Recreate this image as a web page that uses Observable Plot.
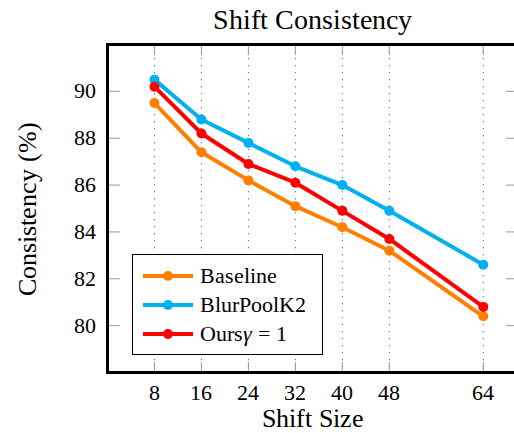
<!DOCTYPE html>
<html>
<head>
<meta charset="utf-8">
<script src="https://cdn.jsdelivr.net/npm/d3@7"></script>
<script src="https://cdn.jsdelivr.net/npm/@observablehq/plot@0.6"></script>
<style>
  @font-face { font-family: "ChartSerif"; src: local("Liberation Serif"), local("LiberationSerif"), local("LiberationSerif-Regular"), local("Tinos"); font-style: normal; font-weight: 400; }
  @font-face { font-family: "ChartSerif"; src: local("Liberation Serif Italic"), local("LiberationSerif-Italic"); font-style: italic; font-weight: 400; }
  html, body { margin: 0; padding: 0; background: #fff; overflow: hidden; width: 514px; height: 433px; }
  #wrap { position: relative; width: 514px; height: 433px; overflow: hidden; font-family: ChartSerif, 'Liberation Serif', serif; }
  #title { position: absolute; left: 107px; width: 411px; top: 0; height: 40px; line-height: 40px; text-align: center; font-size: 28px; color: #000; }
  #chart { position: absolute; left: 0; top: 40px; width: 530px; }
  #chart svg { max-width: none !important; }
  #legend { position: absolute; left: 132px; top: 254px; width: 189px; height: 99px; border: 1px solid #000; background: #fff; box-sizing: content-box; padding: 0; }
  .row { position: absolute; left: 0; height: 29px; display: flex; align-items: center; font-size: 22px; white-space: nowrap; }
  .row svg { margin-left: 10px; margin-right: 7px; }
</style>
</head>
<body>
<div id="wrap">
  <div id="title">Shift Consistency</div>
  <div id="chart"></div>
  <div id="legend"></div>
</div>
<script>
const shiftSizes = [8, 16, 24, 32, 40, 48, 64];
const yTicks = [80, 82, 84, 86, 88, 90];
const seriesNames = ["Baseline", "BlurPoolK2", "Ours"];
const seriesColors = ["#ff8000", "#00b0f0", "#ff0000"];
const baseline   = [89.5, 87.4, 86.2, 85.1, 84.2, 83.2, 80.4];
const blurPoolK2 = [90.5, 88.8, 87.8, 86.8, 86.0, 84.9, 82.6];
const ours       = [90.2, 88.2, 86.9, 86.1, 84.9, 83.7, 80.8];
const xLabel = "Shift Size";
const yLabel = "Consistency (%)";

const allValues = [baseline, blurPoolK2, ours];
const rows = [];
seriesNames.forEach((name, i) => {
  shiftSizes.forEach((x, j) => rows.push({series: name, x, y: allValues[i][j]}));
});

const font = "ChartSerif, 'Liberation Serif', serif";
const tickColor = "#999";
const seriesMarks = seriesNames.flatMap((name, i) => {
  const d = rows.filter(r => r.series === name);
  return [
    Plot.line(d, {x: "x", y: "y", stroke: seriesColors[i], strokeWidth: 4}),
    Plot.dot(d, {x: "x", y: "y", fill: seriesColors[i], r: 5})
  ];
});

const chart = Plot.plot({
  width: 530,
  height: 393,
  marginLeft: 107,
  marginRight: 12,
  marginTop: 4,
  marginBottom: 61,
  style: {background: "#fff", color: "#000", maxWidth: "none", fontFamily: font},
  x: {domain: [0, 70], ticks: shiftSizes},
  y: {domain: [78, 92], ticks: yTicks},
  marks: [
    Plot.gridX(shiftSizes, {stroke: "#4f7a4f", strokeOpacity: 1, strokeWidth: 1, strokeDasharray: "1.3,5.7"}),
    Plot.axisX(shiftSizes, {anchor: "bottom", tickSize: 10, dy: -10, text: null, stroke: tickColor, label: null}),
    Plot.axisX(shiftSizes, {anchor: "top", tickSize: 10, dy: 10, text: null, stroke: tickColor, label: null}),
    Plot.axisY(yTicks, {anchor: "left", tickSize: 13, dx: 13, text: null, stroke: tickColor, label: null}),
    Plot.axisY(yTicks, {anchor: "right", tickSize: 13, dx: -13, text: null, stroke: tickColor, label: null}),
    Plot.axisX(shiftSizes, {anchor: "bottom", tickSize: 0, tickPadding: 11.5, fontSize: 22, label: null}),
    Plot.axisY(yTicks, {anchor: "left", tickSize: 0, tickPadding: 12, fontSize: 22, label: null}),
    Plot.text([xLabel], {frameAnchor: "bottom", text: d => d, fontSize: 26, dy: 46, lineAnchor: "middle", textAnchor: "middle"}),
    Plot.text([yLabel], {frameAnchor: "left", text: d => d, fontSize: 26, rotate: -90, dx: -80, lineAnchor: "middle", textAnchor: "middle"}),
    ...seriesMarks,
    Plot.frame({stroke: "#000", strokeWidth: 3})
  ]
});
document.getElementById("chart").appendChild(chart);

// Legend
const legend = document.getElementById("legend");
seriesNames.forEach((name, i) => {
  const row = document.createElement("div");
  row.className = "row";
  row.style.top = (6 + i * 29) + "px";
  const ns = "http://www.w3.org/2000/svg";
  const sw = document.createElementNS(ns, "svg");
  sw.setAttribute("width", 50); sw.setAttribute("height", 12);
  const ln = document.createElementNS(ns, "line");
  ln.setAttribute("x1", 0); ln.setAttribute("x2", 50); ln.setAttribute("y1", 6); ln.setAttribute("y2", 6);
  ln.setAttribute("stroke", seriesColors[i]); ln.setAttribute("stroke-width", 4);
  const c = document.createElementNS(ns, "circle");
  c.setAttribute("cx", 25); c.setAttribute("cy", 6); c.setAttribute("r", 5); c.setAttribute("fill", seriesColors[i]);
  sw.appendChild(ln); sw.appendChild(c);
  row.appendChild(sw);
  const label = document.createElement("span");
  if (name === "Ours") {
    label.innerHTML = "Ours<i>γ</i>&nbsp;=&nbsp;1";
  } else {
    label.textContent = name;
  }
  row.appendChild(label);
  legend.appendChild(row);
});

const svgEl = document.querySelector("#chart svg");
svgEl.setAttribute("font-family", font);
document.querySelectorAll("#wrap, #wrap div, #wrap span, #wrap i, #chart svg, #chart svg g, #chart svg text").forEach(el => {
  el.style.setProperty("font-family", font, "important");
});
</script>
</body>
</html>
